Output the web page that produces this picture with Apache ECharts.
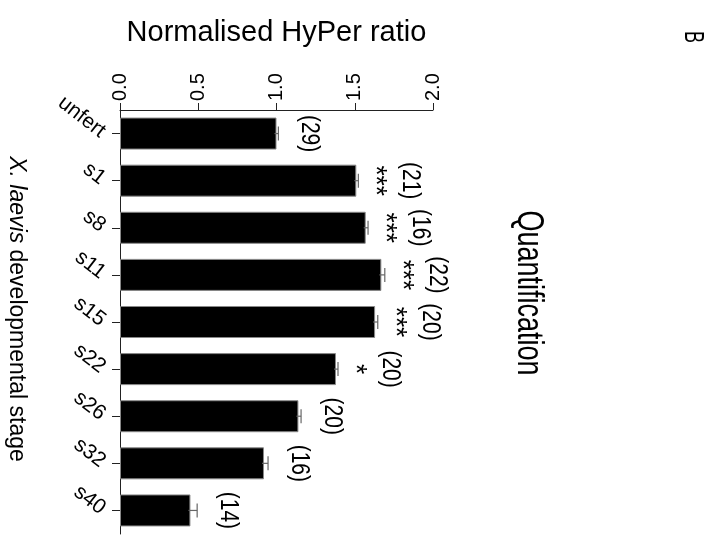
<!DOCTYPE html>
<html><head><meta charset="utf-8">
<script src="https://cdn.jsdelivr.net/npm/echarts@6/dist/echarts.min.js"></script>
<style>html,body{margin:0;padding:0;background:#fff}#c{width:715px;height:537px}</style>
</head><body><div id="c"></div>
<script>
const categories = ['unfert', 's1', 's8', 's11', 's15', 's22', 's26', 's32', 's40'];
const means = [1.00, 1.51, 1.57, 1.67, 1.63, 1.38, 1.14, 0.92, 0.45];
const errors = [0.012, 0.013, 0.015, 0.022, 0.017, 0.013, 0.017, 0.026, 0.043];
const nCounts = [29, 21, 16, 22, 20, 20, 20, 16, 14];
const significance = ['', '***', '***', '***', '***', '*', '', '', ''];
const valueMin = 0, valueMax = 2, valueStep = 0.5;

const FONT = 'Liberation Sans, Arial, sans-serif';
const chart = echarts.init(document.getElementById('c'), null, {renderer: 'canvas'});

function rotText(x, y, text, size, stretch) {
  return {
    type: 'text', x: x, y: y, rotation: -Math.PI / 2, scaleY: stretch || 1,
    style: {text: text, fill: '#000', fontSize: size, fontFamily: FONT, align: 'center', verticalAlign: 'middle'}
  };
}

chart.setOption({
  animation: false,
  backgroundColor: '#fff',
  textStyle: {fontFamily: FONT, color: '#000'},
  grid: {left: 120, right: 282, top: 110, bottom: 3, containLabel: false},
  xAxis: {
    type: 'value', position: 'top', min: valueMin, max: valueMax, interval: valueStep,
    axisLine: {show: true, lineStyle: {color: '#222', width: 1}},
    axisTick: {show: true, length: 7, lineStyle: {color: '#222', width: 1}},
    splitLine: {show: false},
    axisLabel: {rotate: -90, margin: 9, fontSize: 20, color: '#000', fontFamily: FONT,
      formatter: v => v.toFixed(1)},
    name: 'Normalised HyPer ratio', nameLocation: 'middle', nameGap: 63,
    nameTextStyle: {fontSize: 29, color: '#000', fontFamily: FONT}
  },
  yAxis: {
    type: 'category', data: categories, inverse: true,
    axisLine: {show: true, lineStyle: {color: '#222', width: 1}},
    axisTick: {show: true, alignWithLabel: true, length: 8, lineStyle: {color: '#222', width: 1}},
    axisLabel: {rotate: -38, fontSize: 21, margin: 17, color: '#000', fontFamily: FONT},
    name: '{i|X. laevis} developmental stage', nameLocation: 'middle', nameRotate: -90, nameGap: 92,
    nameTextStyle: {fontSize: 23, color: '#000', fontFamily: FONT, padding: [0, 26, 0, 0],
      rich: {i: {fontSize: 23, fontStyle: 'italic', color: '#000', fontFamily: FONT}}}
  },
  graphic: [
    rotText(528, 293, 'Quantification', 27, 1.35),
    rotText(692, 37, 'B', 18, 1.5)
  ],
  series: [
    {
      type: 'bar', data: means, barWidth: 32,
      itemStyle: {color: '#000', borderColor: '#888', borderWidth: 1}
    },
    {
      type: 'custom', z: 5,
      data: categories.map((c, i) => [means[i], i, errors[i]]),
      encode: {x: 0, y: 1},
      renderItem: function (params, api) {
        const i = params.dataIndex;
        const base = api.coord([api.value(0), api.value(1)]);
        const end = api.coord([api.value(0) + api.value(2), api.value(1)]);
        const cap = 7;
        const ls = {stroke: '#666', lineWidth: 1.2};
        const children = [
          {type: 'line', shape: {x1: base[0] - 2, y1: base[1], x2: end[0], y2: end[1]}, style: ls},
          {type: 'line', shape: {x1: end[0], y1: end[1] - cap, x2: end[0], y2: end[1] + cap}, style: ls}
        ];
        const sig = significance[i];
        if (sig) children.push(rotText(end[0] + 17, end[1], sig, 26, 1.1));
        children.push(rotText(end[0] + (sig ? 52 : 31), end[1], '(' + nCounts[i] + ')', 21, 1.2));
        return {type: 'group', children: children};
      }
    }
  ]
});
</script></body></html>
